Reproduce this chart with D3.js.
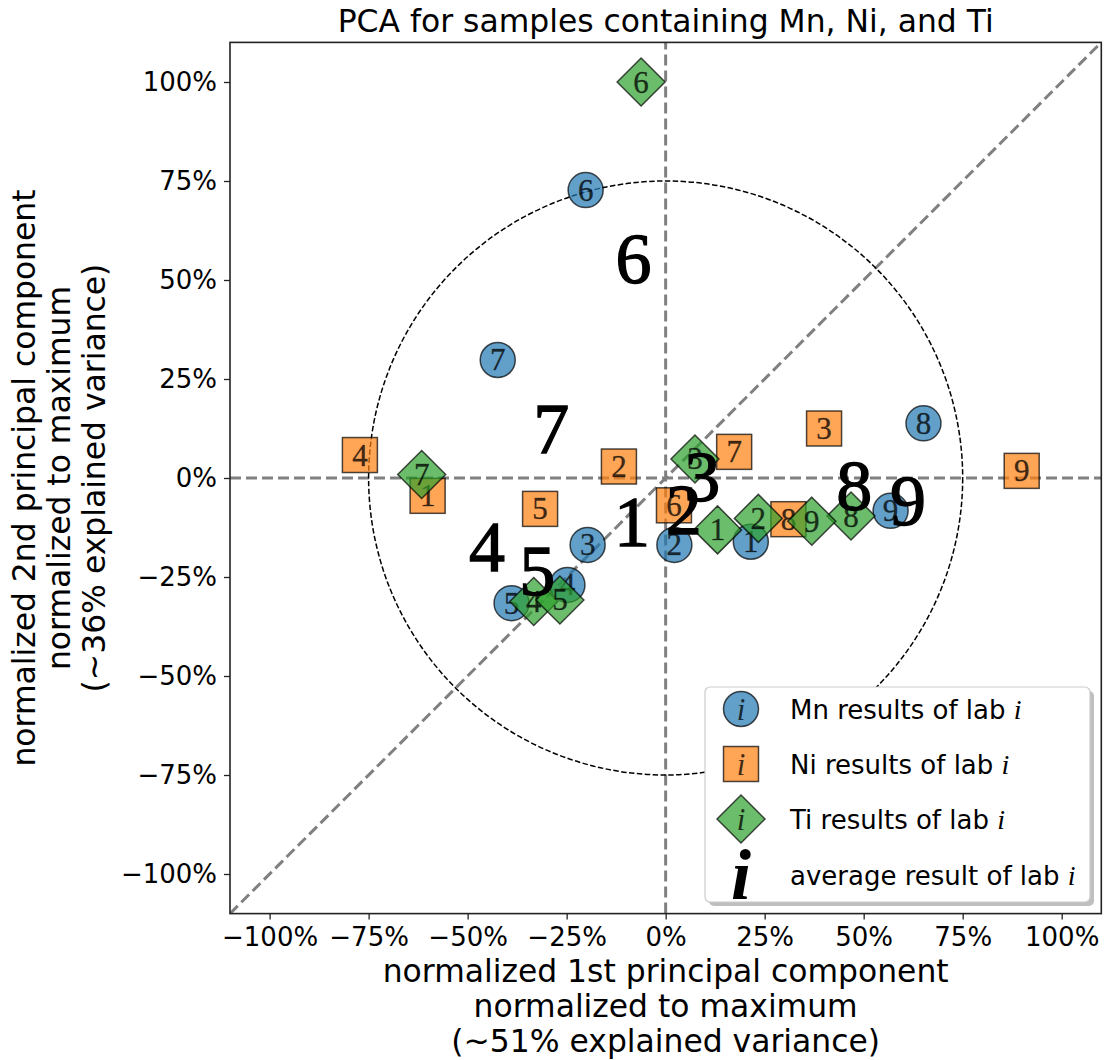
<!DOCTYPE html>
<html>
<head>
<meta charset="utf-8">
<script src="https://cdn.jsdelivr.net/npm/d3@7"></script>
<style>
  html, body { margin: 0; padding: 0; background: #fff; }
  svg { display: block; }
  .sans { font-family: "DejaVu Sans", sans-serif; }
  .serif { font-family: "Liberation Serif", "Times New Roman", serif; }
</style>
</head>
<body>
<svg id="chart" width="1105" height="1060"></svg>
<script>
// Lab numbers and PCA scores (PC1, PC2), normalized to maximum
const labs = [1, 2, 3, 4, 5, 6, 7, 8, 9];

const mnPC1 = [0.215, 0.022, -0.197, -0.248, -0.389, -0.202, -0.424, 0.651, 0.568];
const mnPC2 = [-0.161, -0.169, -0.169, -0.270, -0.316, 0.727, 0.298, 0.138, -0.083];

const niPC1 = [-0.601, -0.118, 0.400, -0.772, -0.317, 0.021, 0.173, 0.310, 0.899];
const niPC2 = [-0.045, 0.029, 0.125, 0.058, -0.078, -0.069, 0.066, -0.104, 0.018];

const tiPC1 = [0.131, 0.234, 0.074, -0.333, -0.267, -0.062, -0.616, 0.468, 0.369];
const tiPC2 = [-0.131, -0.102, 0.048, -0.312, -0.308, 1.000, 0.009, -0.096, -0.109];

const tickValues = [-1, -0.75, -0.5, -0.25, 0, 0.25, 0.5, 0.75, 1];
const circleRadius = 0.75;

const titleText = "PCA for samples containing Mn, Ni, and Ti";
const xLabelLines = ["normalized 1st principal component", "normalized to maximum", "(~51% explained variance)"];
const yLabelLines = ["normalized 2nd principal component", "normalized to maximum", "(~36% explained variance)"];

const series = [
  { name: "Mn", shape: "circle",  color: "#1f77b4", pc1: mnPC1, pc2: mnPC2 },
  { name: "Ni", shape: "square",  color: "#ff7f0e", pc1: niPC1, pc2: niPC2 },
  { name: "Ti", shape: "diamond", color: "#2ca02c", pc1: tiPC1, pc2: tiPC2 }
];

// average position of each lab over the three elements
const avgPC1 = labs.map((_, i) => d3.mean(series, s => s.pc1[i]));
const avgPC2 = labs.map((_, i) => d3.mean(series, s => s.pc2[i]));

const svg = d3.select("#chart");
const plot = { left: 230, right: 1101.3, top: 42.4, bottom: 913.6 };

const x = d3.scaleLinear().domain([-1.1, 1.1]).range([plot.left, plot.right]);
const y = d3.scaleLinear().domain([-1.1, 1.1]).range([plot.bottom, plot.top]);

svg.append("defs").append("clipPath").attr("id", "plotClip")
  .append("rect")
  .attr("x", plot.left).attr("y", plot.top)
  .attr("width", plot.right - plot.left).attr("height", plot.bottom - plot.top);

const inner = svg.append("g").attr("clip-path", "url(#plotClip)");

// dashed reference lines: axes through origin and the diagonal
const refLines = [
  [[-1.1, 0], [1.1, 0]],
  [[0, -1.1], [0, 1.1]],
  [[-1.1, -1.1], [1.1, 1.1]]
];
inner.selectAll("line.ref").data(refLines).join("line")
  .attr("class", "ref")
  .attr("x1", d => x(d[0][0])).attr("y1", d => y(d[0][1]))
  .attr("x2", d => x(d[1][0])).attr("y2", d => y(d[1][1]))
  .attr("stroke", "#808080").attr("stroke-width", 3)
  .attr("stroke-dasharray", "11,5");

// dashed circle of radius 75%
inner.append("ellipse")
  .attr("cx", x(0)).attr("cy", y(0))
  .attr("rx", x(circleRadius) - x(0)).attr("ry", y(0) - y(circleRadius))
  .attr("fill", "none").attr("stroke", "#000").attr("stroke-width", 1.5)
  .attr("stroke-dasharray", "5.5,2.4");

// marker drawing helpers
const circleR = 17.5, squareHalf = 17.5, diamondHalf = 24;
function drawShape(g, shape, color) {
  let el;
  if (shape === "circle") {
    el = g.append("circle").attr("r", circleR);
  } else if (shape === "square") {
    el = g.append("rect").attr("x", -squareHalf).attr("y", -squareHalf)
      .attr("width", 2 * squareHalf).attr("height", 2 * squareHalf);
  } else {
    const p = d3.path();
    p.moveTo(0, -diamondHalf); p.lineTo(diamondHalf, 0);
    p.lineTo(0, diamondHalf); p.lineTo(-diamondHalf, 0); p.closePath();
    el = g.append("path").attr("d", p.toString());
  }
  el.attr("fill", color).attr("fill-opacity", 0.7)
    .attr("stroke", "#000").attr("stroke-opacity", 0.7).attr("stroke-width", 1.5);
}

// per-element results of every lab
series.forEach(s => {
  const pts = labs.map((lab, i) => ({ lab, px: s.pc1[i], py: s.pc2[i] }));
  const g = inner.append("g").attr("class", "series-" + s.name);
  g.selectAll("g.mark").data(pts).join("g")
    .attr("class", "mark")
    .attr("transform", d => `translate(${x(d.px)},${y(d.py)})`)
    .each(function (d) {
      const m = d3.select(this);
      drawShape(m, s.shape, s.color);
      m.append("text")
        .attr("class", "serif")
        .attr("text-anchor", "middle").attr("dominant-baseline", "central")
        .attr("font-size", 31).attr("fill", "#000").attr("fill-opacity", 0.75)
        .attr("stroke", "#000").attr("stroke-opacity", 0.5).attr("stroke-width", 0.5)
        .text(d.lab);
    });
});

// average result of each lab
inner.append("g").selectAll("text").data(labs).join("text")
  .attr("class", "serif")
  .attr("x", (d, i) => x(avgPC1[i])).attr("y", (d, i) => y(avgPC2[i]))
  .attr("text-anchor", "middle").attr("dominant-baseline", "central")
  .attr("font-size", 72).attr("fill", "#000")
  .attr("stroke", "#000").attr("stroke-width", 1.3)
  .text(d => d);

// axes
const fmt = d3.format(".0%");
const xAxis = svg.append("g").attr("transform", `translate(0,${plot.bottom})`)
  .call(d3.axisBottom(x).tickValues(tickValues).tickFormat(fmt).tickSize(6).tickSizeOuter(0).tickPadding(8));
const yAxis = svg.append("g").attr("transform", `translate(${plot.left},0)`)
  .call(d3.axisLeft(y).tickValues(tickValues).tickFormat(fmt).tickSize(6).tickSizeOuter(0).tickPadding(7));
[xAxis, yAxis].forEach(a => {
  a.select(".domain").remove();
  a.selectAll(".tick line").attr("stroke", "#222").attr("stroke-width", 1.3);
  a.selectAll(".tick text").attr("font-family", "DejaVu Sans").attr("font-size", 26).attr("fill", "#000");
});

// frame
svg.append("rect")
  .attr("x", plot.left).attr("y", plot.top)
  .attr("width", plot.right - plot.left).attr("height", plot.bottom - plot.top)
  .attr("fill", "none").attr("stroke", "#222").attr("stroke-width", 1.6);

// title
svg.append("text").attr("class", "sans")
  .attr("x", (plot.left + plot.right) / 2).attr("y", 32)
  .attr("text-anchor", "middle").attr("font-size", 31.4).attr("fill", "#000")
  .text(titleText);

// x label
svg.append("g").selectAll("text").data(xLabelLines).join("text")
  .attr("class", "sans")
  .attr("x", (plot.left + plot.right) / 2)
  .attr("y", (d, i) => 982 + i * 35)
  .attr("text-anchor", "middle").attr("font-size", 31.4).attr("fill", "#000")
  .text(d => d);

// y label
const yMid = (plot.top + plot.bottom) / 2;
svg.append("g").selectAll("text").data(yLabelLines).join("text")
  .attr("class", "sans")
  .attr("transform", (d, i) => `translate(${35 + i * 35},${yMid}) rotate(-90)`)
  .attr("text-anchor", "middle").attr("font-size", 31.4).attr("fill", "#000")
  .text(d => d);

// legend
const legend = svg.append("g");
const lg = { x: 705, y: 687, w: 385, h: 215 };
legend.append("rect")
  .attr("x", lg.x + 4).attr("y", lg.y + 4).attr("width", lg.w).attr("height", lg.h)
  .attr("rx", 5).attr("fill", "#7f7f7f").attr("fill-opacity", 0.5);
legend.append("rect")
  .attr("x", lg.x).attr("y", lg.y).attr("width", lg.w).attr("height", lg.h)
  .attr("rx", 5).attr("fill", "#fff").attr("stroke", "#cccccc").attr("stroke-width", 1.2);

const legendRows = [
  { shape: "circle",  color: "#1f77b4", label: "Mn results of lab " },
  { shape: "square",  color: "#ff7f0e", label: "Ni results of lab " },
  { shape: "diamond", color: "#2ca02c", label: "Ti results of lab " },
  { shape: "avg",     color: null,      label: "average result of lab " }
];
const rowY = [709, 764, 819, 875];
legendRows.forEach((r, i) => {
  const g = legend.append("g").attr("transform", `translate(741,${rowY[i]})`);
  if (r.shape === "avg") {
    g.append("text").attr("class", "serif")
      .attr("text-anchor", "middle").attr("dominant-baseline", "central")
      .attr("font-size", 72).attr("font-style", "italic").attr("font-weight", "bold")
      .attr("fill", "#000").text("i");
  } else {
    drawShape(g, r.shape, r.color);
    g.append("text").attr("class", "serif")
      .attr("text-anchor", "middle").attr("dominant-baseline", "central")
      .attr("font-size", 31).attr("font-style", "italic")
      .attr("fill", "#000").attr("fill-opacity", 0.75).text("i");
  }
  const t = legend.append("text").attr("class", "sans")
    .attr("x", 790).attr("y", rowY[i] + 9.5)
    .attr("font-size", 26).attr("fill", "#000");
  t.append("tspan").text(r.label);
  t.append("tspan").attr("class", "serif").attr("font-family", "Liberation Serif")
    .attr("font-style", "italic").attr("font-size", 28).text("i");
});
</script>
</body>
</html>
